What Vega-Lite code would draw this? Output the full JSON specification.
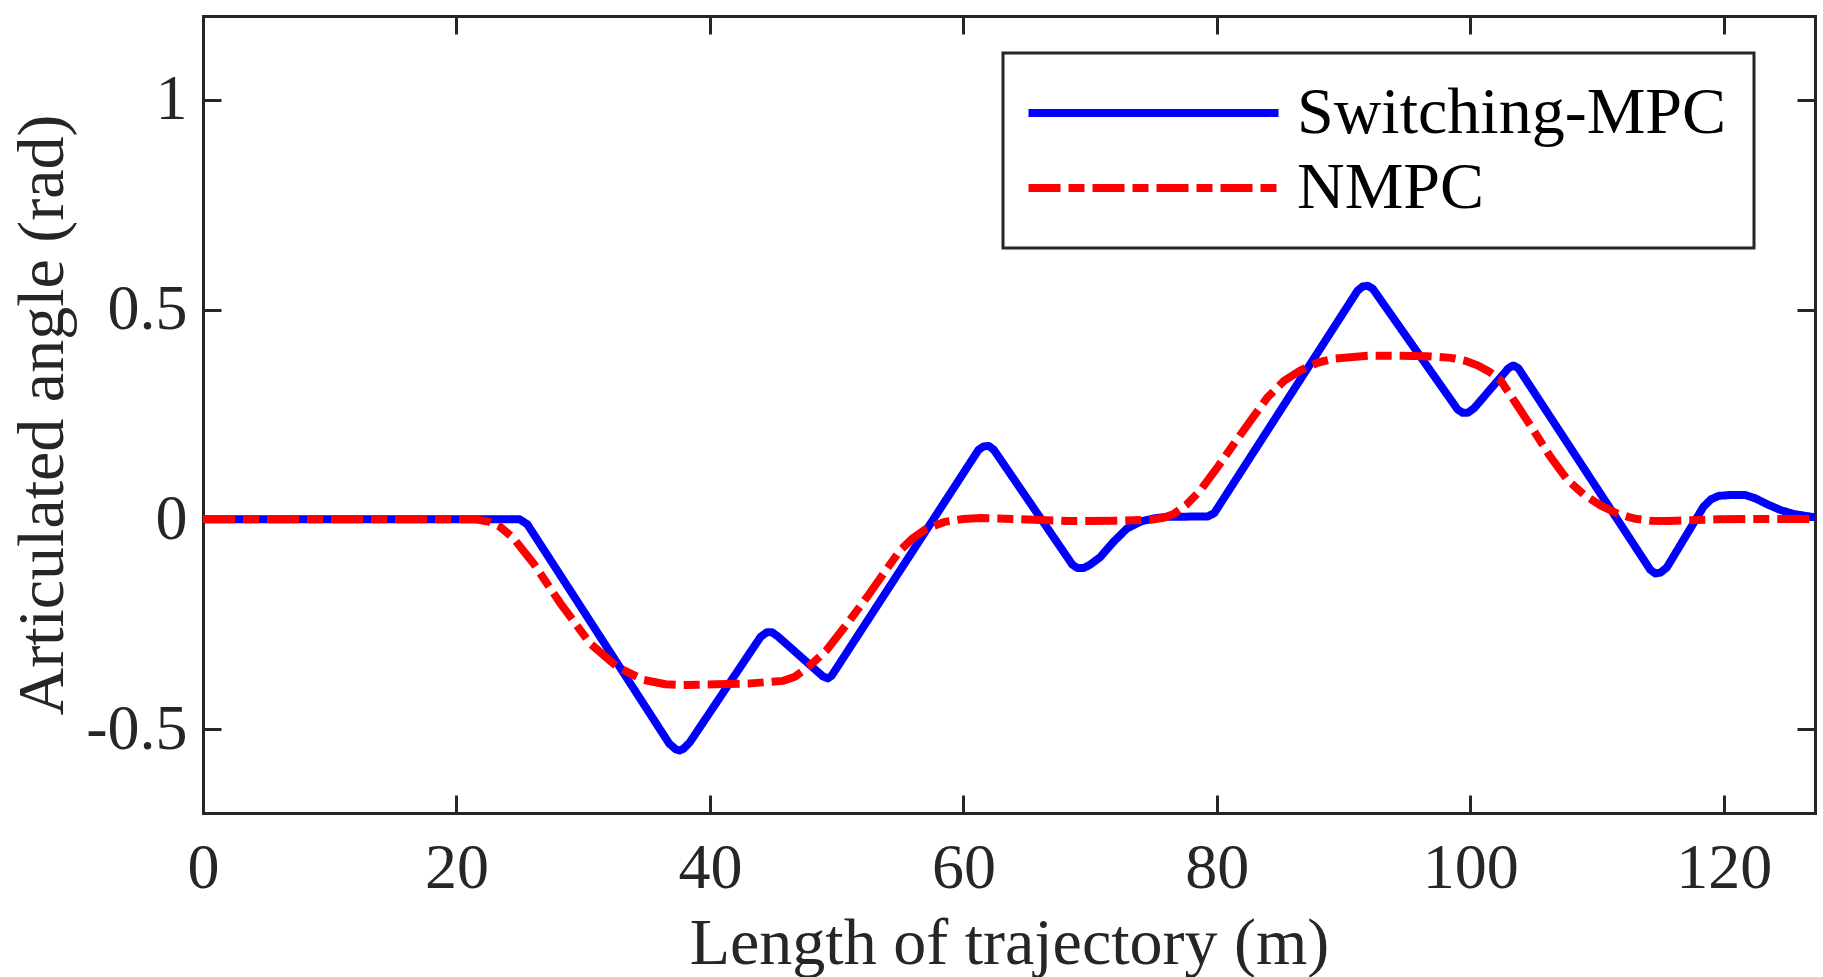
{
  "$schema": "https://vega.github.io/schema/vega-lite/v6.json",
  "width": 1612,
  "height": 797,
  "autosize": "none",
  "padding": {"left": 203, "top": 16, "right": 8, "bottom": 164},
  "background": "white",
  "config": {
    "view": {"stroke": null},
    "font": "Times New Roman, Liberation Serif, DejaVu Serif, serif",
    "legend": {"strokeWidth": 3},
    "axis": {
      "domainColor": "#262626",
      "domainWidth": 3,
      "domainCap": "square",
      "tickColor": "#262626",
      "tickWidth": 3,
      "tickSize": -18,
      "labelFont": "Times New Roman, Liberation Serif, DejaVu Serif, serif",
      "labelFontSize": 64,
      "labelColor": "#262626",
      "labelFlush": false,
      "labelOverlap": false,
      "titleFont": "Times New Roman, Liberation Serif, DejaVu Serif, serif",
      "titleFontSize": 66,
      "titleFontWeight": "normal",
      "titleColor": "#262626",
      "grid": false
    }
  },
  "data": {
    "values": [
      {"series": "Switching-MPC", "length": 0, "angle": 0},
      {"series": "Switching-MPC", "length": 25.0, "angle": 0},
      {"series": "Switching-MPC", "length": 25.6, "angle": -0.012},
      {"series": "Switching-MPC", "length": 36.8, "angle": -0.535},
      {"series": "Switching-MPC", "length": 37.3, "angle": -0.548},
      {"series": "Switching-MPC", "length": 37.6, "angle": -0.551},
      {"series": "Switching-MPC", "length": 37.9, "angle": -0.547},
      {"series": "Switching-MPC", "length": 38.4, "angle": -0.532},
      {"series": "Switching-MPC", "length": 44.0, "angle": -0.28},
      {"series": "Switching-MPC", "length": 44.5, "angle": -0.269},
      {"series": "Switching-MPC", "length": 44.9, "angle": -0.269},
      {"series": "Switching-MPC", "length": 45.4, "angle": -0.28},
      {"series": "Switching-MPC", "length": 48.9, "angle": -0.374},
      {"series": "Switching-MPC", "length": 49.3, "angle": -0.379},
      {"series": "Switching-MPC", "length": 49.6, "angle": -0.373},
      {"series": "Switching-MPC", "length": 61.2, "angle": 0.166},
      {"series": "Switching-MPC", "length": 61.6, "angle": 0.174},
      {"series": "Switching-MPC", "length": 62.0, "angle": 0.175},
      {"series": "Switching-MPC", "length": 62.4, "angle": 0.166},
      {"series": "Switching-MPC", "length": 68.6, "angle": -0.108},
      {"series": "Switching-MPC", "length": 69.0, "angle": -0.116},
      {"series": "Switching-MPC", "length": 69.5, "angle": -0.116},
      {"series": "Switching-MPC", "length": 70.0, "angle": -0.108},
      {"series": "Switching-MPC", "length": 70.8, "angle": -0.09},
      {"series": "Switching-MPC", "length": 71.8, "angle": -0.055},
      {"series": "Switching-MPC", "length": 72.9, "angle": -0.022},
      {"series": "Switching-MPC", "length": 74.0, "angle": -0.005},
      {"series": "Switching-MPC", "length": 75.0, "angle": 0.002},
      {"series": "Switching-MPC", "length": 76.0, "angle": 0.006},
      {"series": "Switching-MPC", "length": 79.3, "angle": 0.007},
      {"series": "Switching-MPC", "length": 79.8, "angle": 0.015},
      {"series": "Switching-MPC", "length": 91.1, "angle": 0.545},
      {"series": "Switching-MPC", "length": 91.5, "angle": 0.555},
      {"series": "Switching-MPC", "length": 91.9, "angle": 0.557},
      {"series": "Switching-MPC", "length": 92.3, "angle": 0.55},
      {"series": "Switching-MPC", "length": 99.0, "angle": 0.262},
      {"series": "Switching-MPC", "length": 99.4, "angle": 0.254},
      {"series": "Switching-MPC", "length": 99.8, "angle": 0.254},
      {"series": "Switching-MPC", "length": 100.3, "angle": 0.265},
      {"series": "Switching-MPC", "length": 103.0, "angle": 0.36},
      {"series": "Switching-MPC", "length": 103.4, "angle": 0.367},
      {"series": "Switching-MPC", "length": 103.8, "angle": 0.36},
      {"series": "Switching-MPC", "length": 114.2, "angle": -0.12},
      {"series": "Switching-MPC", "length": 114.6, "angle": -0.129},
      {"series": "Switching-MPC", "length": 115.0, "angle": -0.127},
      {"series": "Switching-MPC", "length": 115.5, "angle": -0.115},
      {"series": "Switching-MPC", "length": 118.4, "angle": 0.03},
      {"series": "Switching-MPC", "length": 119.0, "angle": 0.048},
      {"series": "Switching-MPC", "length": 119.6, "angle": 0.056},
      {"series": "Switching-MPC", "length": 120.5, "angle": 0.058},
      {"series": "Switching-MPC", "length": 121.7, "angle": 0.058},
      {"series": "Switching-MPC", "length": 122.5, "angle": 0.05},
      {"series": "Switching-MPC", "length": 123.5, "angle": 0.035},
      {"series": "Switching-MPC", "length": 124.5, "angle": 0.022},
      {"series": "Switching-MPC", "length": 125.5, "angle": 0.013},
      {"series": "Switching-MPC", "length": 126.5, "angle": 0.008},
      {"series": "Switching-MPC", "length": 127.2, "angle": 0.005},
      {"series": "NMPC", "length": 0, "angle": 0},
      {"series": "NMPC", "length": 21.5, "angle": 0},
      {"series": "NMPC", "length": 22.5, "angle": -0.005},
      {"series": "NMPC", "length": 23.45, "angle": -0.018},
      {"series": "NMPC", "length": 24.5, "angle": -0.045},
      {"series": "NMPC", "length": 26.1, "angle": -0.106},
      {"series": "NMPC", "length": 28.2, "angle": -0.2},
      {"series": "NMPC", "length": 30.55, "angle": -0.296},
      {"series": "NMPC", "length": 32.7, "angle": -0.352},
      {"series": "NMPC", "length": 34.8, "angle": -0.383},
      {"series": "NMPC", "length": 36.5, "angle": -0.393},
      {"series": "NMPC", "length": 37.9, "angle": -0.395},
      {"series": "NMPC", "length": 40.5, "angle": -0.393},
      {"series": "NMPC", "length": 43.2, "angle": -0.391},
      {"series": "NMPC", "length": 45.8, "angle": -0.385},
      {"series": "NMPC", "length": 46.7, "angle": -0.375},
      {"series": "NMPC", "length": 47.4, "angle": -0.36},
      {"series": "NMPC", "length": 48.2, "angle": -0.34},
      {"series": "NMPC", "length": 49.2, "angle": -0.312},
      {"series": "NMPC", "length": 50.8, "angle": -0.25},
      {"series": "NMPC", "length": 52.4, "angle": -0.185},
      {"series": "NMPC", "length": 53.8, "angle": -0.125},
      {"series": "NMPC", "length": 55.0, "angle": -0.074},
      {"series": "NMPC", "length": 56.0, "angle": -0.045},
      {"series": "NMPC", "length": 57.1, "angle": -0.022},
      {"series": "NMPC", "length": 58.5, "angle": -0.006},
      {"series": "NMPC", "length": 60.0, "angle": 0.001},
      {"series": "NMPC", "length": 61.35, "angle": 0.003},
      {"series": "NMPC", "length": 64.0, "angle": 0.001},
      {"series": "NMPC", "length": 68.2, "angle": -0.004},
      {"series": "NMPC", "length": 72.0, "angle": -0.003},
      {"series": "NMPC", "length": 74.8, "angle": -0.001},
      {"series": "NMPC", "length": 75.8, "angle": 0.004},
      {"series": "NMPC", "length": 76.6, "angle": 0.013},
      {"series": "NMPC", "length": 77.6, "angle": 0.035},
      {"series": "NMPC", "length": 78.7, "angle": 0.069},
      {"series": "NMPC", "length": 80.0, "angle": 0.122},
      {"series": "NMPC", "length": 81.35, "angle": 0.18},
      {"series": "NMPC", "length": 82.7, "angle": 0.237},
      {"series": "NMPC", "length": 84.0, "angle": 0.291},
      {"series": "NMPC", "length": 85.3, "angle": 0.33},
      {"series": "NMPC", "length": 86.6, "angle": 0.355},
      {"series": "NMPC", "length": 88.0, "angle": 0.374},
      {"series": "NMPC", "length": 89.25, "angle": 0.383},
      {"series": "NMPC", "length": 91.9, "angle": 0.39},
      {"series": "NMPC", "length": 94.5, "angle": 0.39},
      {"series": "NMPC", "length": 96.5, "angle": 0.389},
      {"series": "NMPC", "length": 98.5, "angle": 0.385},
      {"series": "NMPC", "length": 99.6, "angle": 0.378},
      {"series": "NMPC", "length": 100.6, "angle": 0.367},
      {"series": "NMPC", "length": 101.5, "angle": 0.352},
      {"series": "NMPC", "length": 102.4, "angle": 0.331},
      {"series": "NMPC", "length": 103.7, "angle": 0.272},
      {"series": "NMPC", "length": 105.0, "angle": 0.212},
      {"series": "NMPC", "length": 106.3, "angle": 0.15},
      {"series": "NMPC", "length": 107.7, "angle": 0.093},
      {"series": "NMPC", "length": 109.0, "angle": 0.058},
      {"series": "NMPC", "length": 110.3, "angle": 0.033},
      {"series": "NMPC", "length": 111.6, "angle": 0.014},
      {"series": "NMPC", "length": 112.9, "angle": 0.002},
      {"series": "NMPC", "length": 114.2, "angle": -0.003},
      {"series": "NMPC", "length": 115.6, "angle": -0.004},
      {"series": "NMPC", "length": 117.5, "angle": -0.002},
      {"series": "NMPC", "length": 119.5, "angle": 0.0},
      {"series": "NMPC", "length": 123.0, "angle": 0.001},
      {"series": "NMPC", "length": 127.2, "angle": 0.001}
    ]
  },
  "layer": [
    {
      "mark": {"type": "line", "strokeWidth": 8, "strokeJoin": "round", "strokeCap": "butt"},
      "encoding": {
        "x": {
          "field": "length",
          "type": "quantitative",
          "scale": {"domain": [0, 127.2], "nice": false, "zero": false},
          "axis": {
            "orient": "bottom",
            "values": [0, 20, 40, 60, 80, 100, 120],
            "format": "d",
            "labelPadding": 41,
            "title": "Length of trajectory (m)",
            "titleY": 150,
            "titleBaseline": "alphabetic"
          }
        },
        "y": {
          "field": "angle",
          "type": "quantitative",
          "scale": {"domain": [-0.7, 1.2], "nice": false, "zero": false},
          "axis": {
            "orient": "left",
            "values": [-0.5, 0, 0.5, 1],
            "labelExpr": "datum.value < 0 ? '-' + format(-datum.value, '~g') : format(datum.value, '~g')",
            "labelPadding": 34,
            "title": "Articulated angle (rad)",
            "titleX": -141,
            "titleAngle": 270,
            "titleBaseline": "alphabetic"
          }
        },
        "color": {
          "field": "series",
          "type": "nominal",
          "scale": {"domain": ["Switching-MPC", "NMPC"], "range": ["#0000ff", "#ff0000"]},
          "legend": {
            "title": null,
            "orient": "none",
            "legendX": 800,
            "legendY": 37,
            "padding": 27,
            "fillColor": "white",
            "strokeColor": "#262626",
            "symbolType": "M-2.76,0H17.24",
            "symbolSize": 625,
            "symbolStrokeWidth": 8,
            "labelFont": "Times New Roman, Liberation Serif, DejaVu Serif, serif",
            "labelFontSize": 66,
            "labelColor": "black",
            "labelLimit": 0,
            "labelOffset": 201,
            "rowPadding": 9
          }
        },
        "strokeDash": {
          "field": "series",
          "type": "nominal",
          "scale": {"domain": ["Switching-MPC", "NMPC"], "range": [[1, 0], [32, 8, 16, 8]]},
          "legend": null
        }
      }
    },
    {
      "mark": {"type": "line", "opacity": 0},
      "encoding": {
        "x": {
          "field": "length",
          "type": "quantitative",
          "scale": {"domain": [0, 127.2], "nice": false, "zero": false},
          "axis": {"orient": "top", "values": [0, 20, 40, 60, 80, 100, 120], "labels": false, "title": null}
        },
        "y": {
          "field": "angle",
          "type": "quantitative",
          "scale": {"domain": [-0.7, 1.2], "nice": false, "zero": false},
          "axis": {"orient": "right", "values": [-0.5, 0, 0.5, 1], "labels": false, "title": null}
        }
      }
    }
  ],
  "resolve": {"axis": {"x": "independent", "y": "independent"}}
}
